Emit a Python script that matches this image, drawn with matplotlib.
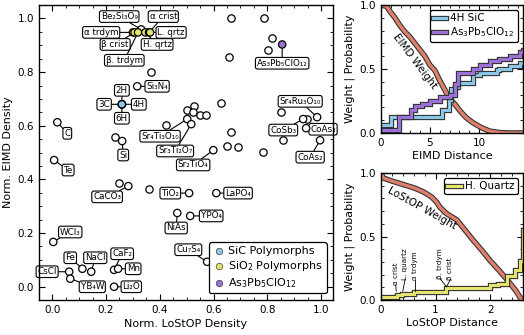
import matplotlib
matplotlib.use('Agg')
import matplotlib.pyplot as plt
import matplotlib.patheffects as pe
from matplotlib.ticker import MultipleLocator

plt.rcParams['font.family'] = ['DejaVu Sans']
plt.rcParams['font.size'] = 7.5
plt.rcParams['mathtext.default'] = 'regular'

# ---------------- data: main scatter ----------------
names = ["Be₂Si₃O₉", "α trdym", "β crist", "β. trdym", "H. qrtz", "α crist", "L. qrtz",
         "Si₃N₄", "3C", "2H", "4H", "6H", "C", "Te", "Si",
         "Sr₄Ti₃O₁₀", "Sr₃Ti₂O₇", "Sr₂TiO₄", "As₃Pb₅ClO₁₂",
         "Sr₄Ru₃O₁₀", "CoSb₃", "CoAs₃", "CoAs₂", "CaCO₃", "TiO₂", "LaPO₄",
         "NiAs", "YPO₄", "Cu₇S₄", "WCl₃", "Fe", "NaCl", "CaF₂", "Mn", "CsCl",
         "YB₄W", "Li₂O"]
lostop = [0.331, 0.300, 0.306, 0.319, 0.346, 0.360, 0.364,
          0.316, 0.259, 0.259, 0.259, 0.259, 0.019, 0.007, 0.260,
          0.502, 0.517, 0.599, 0.855,
          0.985, 0.933, 0.944, 0.996, 0.283, 0.509, 0.610,
          0.465, 0.513, 0.576, 0.004, 0.112, 0.145, 0.230, 0.245, 0.063,
          0.067, 0.230]
eimd = [0.959, 0.948, 0.948, 0.948, 0.948, 0.948, 0.948,
        0.747, 0.680, 0.680, 0.680, 0.680, 0.613, 0.472, 0.543,
        0.625, 0.606, 0.509, 0.903,
        0.632, 0.625, 0.591, 0.546, 0.375, 0.349, 0.349,
        0.275, 0.264, 0.093, 0.167, 0.067, 0.056, 0.063, 0.067, 0.056,
        0.030, 0.000]

other_lostop = [0.368, 0.234, 0.502, 0.528, 0.524, 0.550, 0.572, 0.628, 0.424,
                0.665, 0.651, 0.691, 0.784, 0.665, 0.788, 0.818, 0.803, 0.658,
                0.851, 0.948, 0.859, 0.249, 0.361]
other_eimd = [0.799, 0.558, 0.658, 0.673, 0.651, 0.639, 0.639, 0.684, 0.602,
              0.576, 0.524, 0.520, 0.502, 1.000, 1.000, 0.926, 0.881, 0.855,
              0.651, 0.625, 0.546, 0.387, 0.364]

sic_names = ["3C", "2H", "4H", "6H"]
sio2_names = ["α trdym", "β crist", "β. trdym", "H. qrtz", "α crist", "L. qrtz"]
special_names = ["As₃Pb₅ClO₁₂"]

# label placement (layout)
label_pos = {
    "Be₂Si₃O₉": (0.249, 1.007), "α crist": (0.413, 1.007), "α trdym": (0.182, 0.948),
    "L. qrtz": (0.442, 0.948), "β crist": (0.234, 0.903), "H. qrtz": (0.390, 0.903),
    "β. trdym": (0.268, 0.844), "Si₃N₄": (0.390, 0.747), "2H": (0.259, 0.732),
    "3C": (0.193, 0.680), "4H": (0.322, 0.680), "6H": (0.259, 0.628),
    "C": (0.056, 0.572), "Te": (0.059, 0.435), "Si": (0.264, 0.491),
    "Sr₄Ti₃O₁₀": (0.401, 0.561), "Sr₃Ti₂O₇": (0.457, 0.506), "Sr₂TiO₄": (0.524, 0.454),
    "As₃Pb₅ClO₁₂": (0.855, 0.833), "Sr₄Ru₃O₁₀": (0.922, 0.691), "CoSb₃": (0.859, 0.584),
    "CoAs₃": (1.007, 0.587), "CoAs₂": (0.959, 0.483), "CaCO₃": (0.204, 0.335),
    "TiO₂": (0.439, 0.349), "LaPO₄": (0.691, 0.349), "NiAs": (0.461, 0.219),
    "YPO₄": (0.591, 0.264), "Cu₇S₄": (0.506, 0.138), "WCl₃": (0.067, 0.204),
    "Fe": (0.067, 0.108), "NaCl": (0.160, 0.108), "CaF₂": (0.260, 0.123),
    "Mn": (0.301, 0.067), "CsCl": (-0.019, 0.056), "YB₄W": (0.149, 0.000),
    "Li₂O": (0.294, 0.000),
}

# ---------------- data: EIMD panel ----------------
eimd_w_x = [0, 0.58, 0.92, 1.43, 1.94, 2.45, 2.96, 3.47, 3.98, 4.49, 5.0, 5.5, 6.0,
            6.5, 7.0, 7.6, 8.1, 8.7, 9.4, 10.3, 11.1, 12.1, 13.0, 14.5]
eimd_w_y = [1.0, 0.99, 0.95, 0.90, 0.84, 0.79, 0.75, 0.70, 0.65, 0.60, 0.53, 0.49, 0.41,
            0.34, 0.27, 0.22, 0.17, 0.12, 0.08, 0.04, 0.015, 0.003, 0.0, 0.0]
sic_x = [0, 1.0, 6.2, 6.9, 7.2, 7.55, 7.9, 9.4, 10.1, 11.8, 12.1, 13.2, 14.2, 14.5]
sic_y = [0.06, 0.125, 0.18, 0.26, 0.34, 0.36, 0.39, 0.45, 0.47, 0.49, 0.50, 0.52, 0.55, 0.55]
asp_x = [0, 1.87, 3.1, 3.5, 4.2, 5.0, 6.0, 7.0, 7.55, 7.9, 9.4, 10.1, 11.1, 12.1, 13.2, 14.2, 14.5]
asp_y = [0.02, 0.125, 0.18, 0.21, 0.23, 0.25, 0.28, 0.30, 0.38, 0.47, 0.50, 0.53, 0.56, 0.58,
         0.60, 0.63, 0.65]

# ---------------- data: LoStOP panel ----------------
lostop_w_x = [0, 0.04, 0.17, 0.32, 0.47, 0.62, 0.78, 0.93, 1.02, 1.08, 1.2, 1.39, 1.54,
              1.69, 1.85, 2.0, 2.15, 2.31, 2.46, 2.58]
lostop_w_y = [1.0, 0.96, 0.94, 0.92, 0.90, 0.88, 0.85, 0.81, 0.77, 0.73, 0.68, 0.63, 0.55,
              0.47, 0.39, 0.31, 0.24, 0.16, 0.08, 0.0]
hq_x = [0, 0.29, 0.38, 0.6, 1.2, 2.0, 2.15, 2.3, 2.45, 2.55, 2.6]
hq_y = [0.025, 0.04, 0.05, 0.065, 0.095, 0.12, 0.13, 0.19, 0.24, 0.31, 0.55]
poly_tags = ["α crist", "L. quartz", "α trdym", "β. trdym", "β crist"]
poly_dist = [0.28, 0.40, 0.62, 1.20, 1.20]

# ---------------- colours ----------------
c_sic = "#8cc6e6"
c_sio2 = "#e4e46a"
c_asp = "#9d70d8"
c_w = "#e0806c"
edge = "#333333"

fig = plt.figure(figsize=(5.24, 3.35), dpi=100)
ax = fig.add_axes([0.074, 0.104, 0.562, 0.881])
ax2 = fig.add_axes([0.727, 0.603, 0.271, 0.382])
ax3 = fig.add_axes([0.727, 0.104, 0.271, 0.380])

for a in (ax, ax2, ax3):
    a.tick_params(which='both', direction='in', top=True, right=True, labelsize=7.5)
    a.tick_params(which='major', length=4, width=0.8)
    a.tick_params(which='minor', length=2, width=0.6)
    for s in a.spines.values():
        s.set_linewidth(1.0)

# main scatter
ax.scatter(other_lostop, other_eimd, s=28, facecolor='white', edgecolor='black', lw=0.9, zorder=3)
colors = []
for n in names:
    if n in sic_names:
        colors.append(c_sic)
    elif n in sio2_names:
        colors.append(c_sio2)
    elif n in special_names:
        colors.append(c_asp)
    else:
        colors.append('white')
ax.scatter(lostop, eimd, s=28, facecolor=colors, edgecolor='black', lw=0.9, zorder=3)

for n, x, y in zip(names, lostop, eimd):
    tx, ty = label_pos[n]
    ax.annotate(n, xy=(x, y), xytext=(tx, ty), ha='center', va='center', fontsize=6.3,
                bbox=dict(boxstyle='round,pad=0.15,rounding_size=0.25', fc='white', ec='black', lw=0.8),
                arrowprops=dict(arrowstyle='-', lw=0.8, color='black', shrinkA=0, shrinkB=2.5),
                zorder=2, annotation_clip=False)

ax.scatter([], [], s=22, facecolor=c_sic, edgecolor='#444444', lw=0.5, label='SiC Polymorphs')
ax.scatter([], [], s=22, facecolor=c_sio2, edgecolor='#444444', lw=0.5, label='SiO$_2$ Polymorphs')
ax.scatter([], [], s=22, facecolor=c_asp, edgecolor='#444444', lw=0.5, label='As$_3$Pb$_5$ClO$_{12}$')
leg = ax.legend(loc='lower right', fontsize=8, frameon=True, fancybox=True, edgecolor='black',
                framealpha=1, handletextpad=0.2, borderpad=0.35, labelspacing=0.25,
                handlelength=1.2, borderaxespad=0.6)
leg.get_frame().set_linewidth(0.9)

ax.set_xlim(-0.05, 1.045)
ax.set_ylim(-0.05, 1.05)
ax.xaxis.set_major_locator(MultipleLocator(0.2))
ax.yaxis.set_major_locator(MultipleLocator(0.2))
ax.xaxis.set_minor_locator(MultipleLocator(0.05))
ax.yaxis.set_minor_locator(MultipleLocator(0.05))
ax.set_xlabel('Norm. LoStOP Density', fontsize=8, labelpad=3)
ax.set_ylabel('Norm. EIMD Density', fontsize=8, labelpad=3)

def styled(a, x, y, color, lw=2.2, step=False, label=None):
    kw = dict(drawstyle='steps-post') if step else {}
    ln, = a.plot(x, y, color=color, lw=lw, label=label, solid_joinstyle='miter', **kw)
    ln.set_path_effects([pe.Stroke(linewidth=lw + 1.6, foreground=edge), pe.Normal()])
    return ln

# EIMD panel
styled(ax2, eimd_w_x, eimd_w_y, c_w, lw=2.4)
styled(ax2, sic_x, sic_y, c_sic, step=True, label='4H SiC')
styled(ax2, asp_x, asp_y, c_asp, step=True, label='As$_3$Pb$_5$ClO$_{12}$')
ax2.text(3.5, 0.56, 'EIMD Weight', rotation=-53, ha='center', va='center', fontsize=7.5)
ax2.set_xlim(0, 14.5)
ax2.set_ylim(0, 1.0)
ax2.xaxis.set_major_locator(MultipleLocator(5))
ax2.xaxis.set_minor_locator(MultipleLocator(1))
ax2.yaxis.set_major_locator(MultipleLocator(0.5))
ax2.yaxis.set_minor_locator(MultipleLocator(0.1))
ax2.set_xlabel('EIMD Distance', fontsize=8, labelpad=2)
ax2.set_ylabel('Weight | Probability', fontsize=8, labelpad=3)
l2 = ax2.legend(loc='upper right', fontsize=7.5, edgecolor='black', framealpha=1, fancybox=True,
                handlelength=1.3, handletextpad=0.4, borderpad=0.3, labelspacing=0.2,
                borderaxespad=0.5)
l2.get_frame().set_linewidth(0.9)

# LoStOP panel
styled(ax3, lostop_w_x, lostop_w_y, c_w, lw=2.4)
styled(ax3, hq_x, hq_y, c_sio2, step=True, label='H. Quartz')
ax3.text(0.76, 0.72, 'LoStOP Weight', rotation=-29, ha='center', va='center', fontsize=7.5)
tag_x = [0.27, 0.44, 0.62, 1.08, 1.27]
tag_y = [0.12, 0.16, 0.16, 0.17, 0.16]
for t, d, tx, ty in zip(poly_tags, poly_dist, tag_x, tag_y):
    ax3.text(tx, ty, t, rotation=90, ha='center', va='bottom', fontsize=5.2)
    cy = 0.07 if d < 1 else 0.105
    ax3.plot([tx, d], [ty, cy], color='black', lw=0.6)
ax3.set_xlim(0, 2.6)
ax3.set_ylim(0, 1.0)
ax3.xaxis.set_major_locator(MultipleLocator(1))
ax3.xaxis.set_minor_locator(MultipleLocator(0.2))
ax3.yaxis.set_major_locator(MultipleLocator(0.5))
ax3.yaxis.set_minor_locator(MultipleLocator(0.1))
ax3.set_xlabel('LoStOP Distance', fontsize=8, labelpad=2)
ax3.set_ylabel('Weight | Probability', fontsize=8, labelpad=3)
l3 = ax3.legend(loc='upper right', fontsize=7.5, edgecolor='black', framealpha=1, fancybox=True,
                handlelength=1.3, handletextpad=0.4, borderpad=0.3, borderaxespad=0.5)
l3.get_frame().set_linewidth(0.9)

fig.savefig('out.png', dpi=100)
